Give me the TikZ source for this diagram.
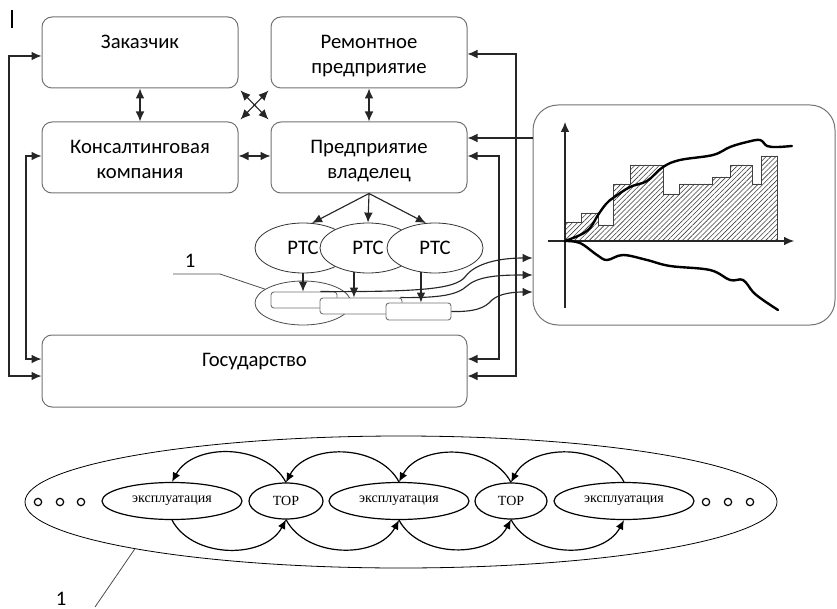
\documentclass[tikz,border=0pt]{standalone}
\usepackage{fontspec}
\setmainfont{Carlito}
\newfontfamily\serifru{Liberation Serif}
\usetikzlibrary{arrows.meta,shapes.geometric,patterns.meta,calc}

\begin{document}
\begin{tikzpicture}[x=0.75pt,y=-0.75pt,
  box/.style 2 args={draw=black!55, line width=0.75pt, rounded corners=7.5pt, fill=white,
    minimum width=#1*0.75pt, minimum height=#2*0.75pt, inner sep=0pt},
  tag/.style 2 args={draw=black!55, line width=0.7pt, rounded corners=2.2pt, fill=white,
    minimum width=#1*0.75pt, minimum height=#2*0.75pt, inner sep=0pt},
  oval/.style 2 args={ellipse, draw=black!80, line width=0.6pt, fill=white,
    minimum width=#1*0.75pt, minimum height=#2*0.75pt, inner sep=0pt},
  lbl/.style={font=\fontsize{15.5}{18.75}\selectfont, align=center, inner sep=0pt},
  slbl/.style={font=\serifru\fontsize{10.5}{12}\selectfont, inner sep=0pt},
  wire/.style={draw=black!85, line width=0.85pt},
  tip/.style={wire, -{Latex[length=7.5pt,width=6.5pt]}},
  both/.style={wire, {Latex[length=7.5pt,width=6.5pt]}-{Latex[length=7.5pt,width=6.5pt]}},
  loop/.style={draw=black, line width=0.9pt, -{Latex[length=7pt,width=6pt]}},
  dot/.style={circle, draw=black, line width=0.9pt, minimum size=5.5pt, inner sep=0pt},
  thick curve/.style={draw=black, line width=1.8pt, line cap=round, line join=round}]

\useasboundingbox (0,0) rectangle (837,609);

% cursor mark
\draw[line width=1.1pt] (12,10) -- (12,28);

% main blocks
\node[box={196}{71}] (zak)  at (140,52.5) {};
\node[box={196}{71}] (rem)  at (369,52.5) {};
\node[box={196}{71}] (kon)  at (140,157.5) {};
\node[box={196}{71}] (pred) at (369,157.5) {};
\node[box={425}{72}] (gos)  at (254.5,371) {};

\node[lbl, anchor=north] at (140,35) {Заказчик};
\node[lbl, anchor=north] at (369,35) {Ремонтное\\предприятие};
\node[lbl, anchor=north] at (140,140) {Консалтинговая\\компания};
\node[lbl, anchor=north] at (369,140) {Предприятие\\владелец};
\node[lbl, anchor=north] at (254.5,353) {Государство};

% links between the blocks
\draw[both] (zak.south) -- (kon.north);
\draw[both] (rem.south) -- (pred.north);
\draw[both] (kon.east |- 0,156) -- (pred.west |- 0,156);
\draw[both] ($(zak.south east)+(2,2)$) -- ($(pred.north west)+(-2,-2)$);
\draw[both] ($(rem.south west)+(-2,2)$) -- ($(kon.north east)+(2,-2)$);

% left feedback lines
\draw[both] (zak.west |- 0,56) -- (9,56) -- (9,376) -- (gos.west |- 0,376);
\draw[both] (kon.west |- 0,156) -- (26,156) -- (26,359) -- (gos.west |- 0,359);

% chart block
\node[box={302}{220}, rounded corners=18.75pt] (chart) at (684,215) {};

% right feedback lines
\draw[both] (rem.east |- 0,54) -- (516,54) -- (516,376) -- (gos.east |- 0,376);
\draw[both] (pred.east |- 0,156) -- (499,156) -- (499,359) -- (gos.east |- 0,359);
\draw[tip] (chart.west |- 0,138) -- (pred.east |- 0,138);

% РТС units
\node[oval={96}{50}] (r1) at (303,248) {};
\node[oval={96}{50}] (r2) at (368,248) {};
\node[oval={96}{50}] (r3) at (435,248) {};
\node[lbl] at (r1) {РТС};
\node[lbl] at (r2) {РТС};
\node[lbl] at (r3) {РТС};
\draw[tip] (pred.south) -- (r1.70);
\draw[tip] (pred.south) -- (r2.north);
\draw[tip] (pred.south) -- (r3.110);

% records of the units
\node[ellipse, draw=black!70, line width=0.6pt, minimum width=72pt, minimum height=33pt, inner sep=0pt] (grp) at (303,303) {};
\node[tag={66}{16}] (b1) at (304,300) {};
\node[tag={82}{16}] (b2) at (361,306) {};
\node[tag={65}{17}] (b3) at (418.5,311.5) {};
\draw[tip] (r1.south) -- (r1.south |- b1.north);
\draw[tip] (r2.240) -- (r2.240 |- b2.north);
\draw[tip] (r3.240) -- (r3.240 |- b3.north);

\draw[tip] ($(b1.north east)+(-17,0)$) .. controls (420,292) and (455,289) .. (465,277)
  .. controls (475,263) and (500,258) .. (chart.west |- 0,258);
\draw[tip] ($(b2.north east)+(-2,0)$) .. controls (440,298) and (457,295) .. (467,286)
  .. controls (478,276) and (500,275) .. (chart.west |- 0,275);
\draw[tip] (b3.east) .. controls (475,312) and (485,308) .. (492,300)
  .. controls (500,293) and (515,292) .. (chart.west |- 0,292);

% label 1 (upper)
\node[lbl] (one) at (190,261) {1};
\draw[draw=black!70, line width=0.6pt] (173,274) -- (220,274) -- (grp.160);

% chart: hatched histogram
\draw[draw=black!75, line width=0.6pt, pattern={Lines[angle=45,distance=2.6pt,line width=0.45pt]}, pattern color=black!75]
  (565,241) -- (565,222) -- (581,222) -- (581,213) -- (598,213) -- (598,225) -- (613,225)
  -- (613,184) -- (630,184) -- (630,165) -- (663,165) -- (663,194) -- (679,194) -- (679,184)
  -- (712,184) -- (712,177) -- (730,177) -- (730,165) -- (752,165) -- (752,184) -- (761,184)
  -- (761,156) -- (777,156) -- (777,241) -- cycle;
% chart: axes
\draw[tip] (565,308) -- (565,122);
\draw[tip] (548,241) -- (794,241);
% chart: upper and lower curves
\draw[thick curve] plot[smooth, tension=0.6] coordinates {(565,241) (580,235) (590,228) (598,215) (606,204)
  (613,198) (630,187) (647,181) (663,167) (680,160) (713,155) (730,147) (747,142) (760,140)
  (767,146) (777,147) (792,146)};
\draw[thick curve] plot[smooth, tension=0.6] coordinates {(565,241) (580,243) (597,255) (607,260)
  (623,255) (647,260) (670,266) (710,270) (730,280) (743,280) (753,292) (763,300) (778,310)};

% life cycle chain
\node[ellipse, draw=black, line width=0.6pt, minimum width=564pt, minimum height=99pt, inner sep=0pt] (cyc) at (401,502) {};
\node[oval={140}{37}, draw=black, line width=0.9pt] (e1) at (172,501) {};
\node[oval={74}{36},  draw=black, line width=0.9pt] (t1) at (286,501) {};
\node[oval={140}{37}, draw=black, line width=0.9pt] (e2) at (399,501) {};
\node[oval={72}{36},  draw=black, line width=0.9pt] (t2) at (511,501) {};
\node[oval={140}{37}, draw=black, line width=0.9pt] (e3) at (624,501) {};
\node[slbl] at (e1) {эксплуатация};
\node[slbl] at (t1) {ТОР};
\node[slbl] at (e2) {эксплуатация};
\node[slbl] at (t2) {ТОР};
\node[slbl] at (e3) {эксплуатация};

\draw[loop] (t1.north) to[bend right=62] (e1.north);
\draw[loop] (e2.north) to[bend right=62] (t1.north);
\draw[loop] (t2.north) to[bend right=62] (e2.north);
\draw[loop] (e3.north) to[bend right=62] (t2.north);
\draw[loop] (e1.south) to[bend right=62] (t1.south);
\draw[loop] (t1.south) to[bend right=62] (e2.south);
\draw[loop] (e2.south) to[bend right=62] (t2.south);
\draw[loop] (t2.south) to[bend right=62] (e3.south);

\node[dot] (l1) at (38,502) {};
\node[dot] (l2) at (60,502) {};
\node[dot] (l3) at (81,502) {};
\node[dot] (q1) at (706,502) {};
\node[dot] (q2) at (728,502) {};
\node[dot] (q3) at (750,502) {};

% label 1 (lower)
\node[lbl] (two) at (61,599) {1};
\draw[draw=black!70, line width=0.6pt] (cyc.190) -- (95,607);

\end{tikzpicture}
\end{document}
